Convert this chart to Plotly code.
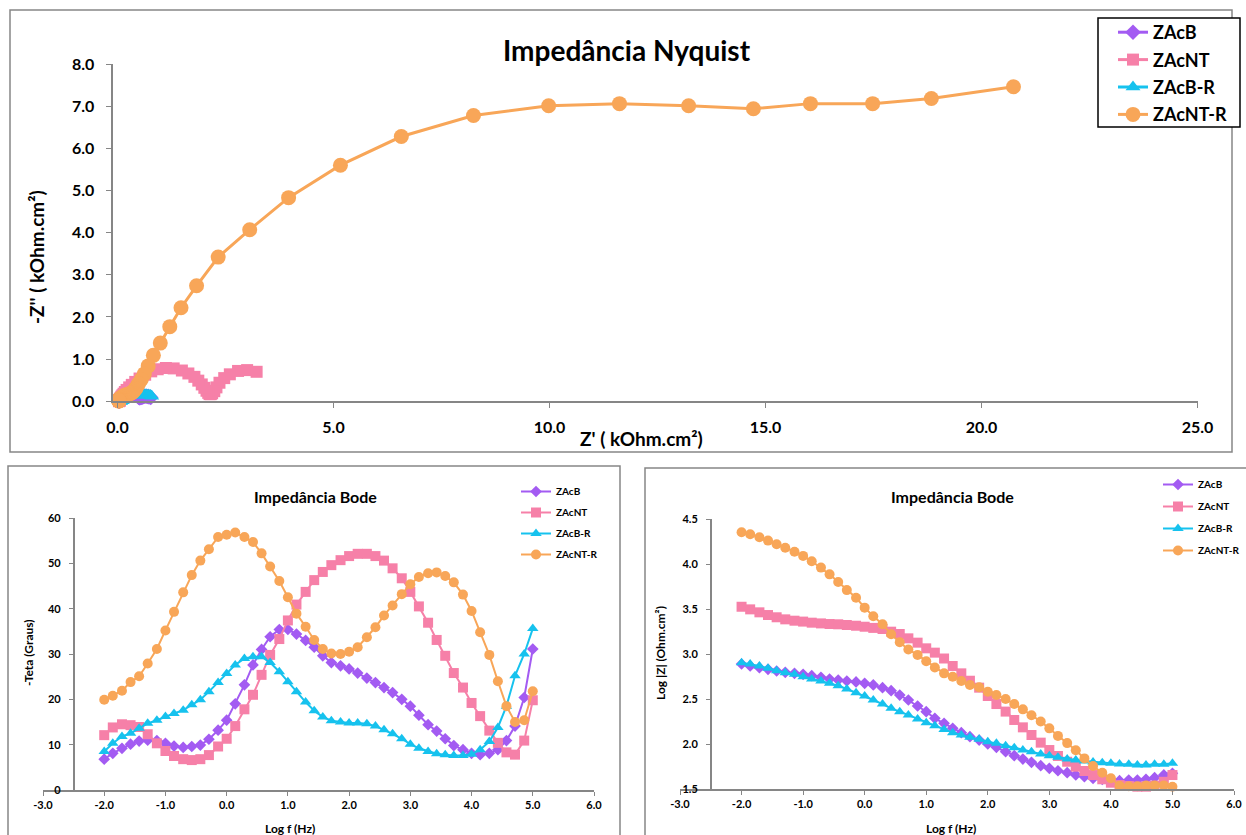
import plotly.graph_objects as go

W, H = 1246, 835


def px(x):
    return x / W


def py(y):
    return 1 - y / H


series = ["ZAcB", "ZAcNT", "ZAcB-R", "ZAcNT-R"]
colors = {"ZAcB": "#A35BF2", "ZAcNT": "#F680A8", "ZAcB-R": "#16C2EE", "ZAcNT-R": "#F8A658"}
symbols = {"ZAcB": "diamond", "ZAcNT": "square", "ZAcB-R": "triangle-up", "ZAcNT-R": "circle"}

# ---------------- Nyquist data (kOhm.cm2) ----------------
nyq_zre_ZAcB = [0.769, 0.729, 0.696, 0.666, 0.636, 0.614, 0.599, 0.585, 0.566, 0.544,
                0.520, 0.506, 0.492, 0.477, 0.455, 0.428, 0.389, 0.347, 0.300, 0.256,
                0.215, 0.186, 0.159, 0.143, 0.127, 0.116, 0.106, 0.098, 0.089, 0.083,
                0.075, 0.068, 0.063, 0.058, 0.054, 0.051, 0.048, 0.046, 0.044, 0.043,
                0.041, 0.040, 0.039, 0.039, 0.039, 0.039, 0.040, 0.041, 0.042, 0.040]
nyq_zim_ZAcB = [0.092, 0.104, 0.113, 0.119, 0.121, 0.119, 0.115, 0.106, 0.097, 0.090,
                0.088, 0.088, 0.097, 0.112, 0.125, 0.147, 0.167, 0.182, 0.180, 0.171,
                0.153, 0.132, 0.109, 0.093, 0.078, 0.066, 0.057, 0.051, 0.045, 0.040,
                0.034, 0.030, 0.026, 0.023, 0.020, 0.017, 0.014, 0.012, 0.010, 0.009,
                0.007, 0.006, 0.006, 0.005, 0.006, 0.006, 0.008, 0.010, 0.016, 0.024]

nyq_zre_ZAcNT = [3.22, 3.00, 2.79, 2.60, 2.47, 2.36, 2.29, 2.24, 2.19, 2.16,
                 2.13, 2.10, 2.06, 2.01, 1.95, 1.87, 1.78, 1.64, 1.49, 1.30,
                 1.12, 0.93, 0.78, 0.64, 0.51, 0.41, 0.33, 0.27, 0.21, 0.17,
                 0.14, 0.115, 0.097, 0.083, 0.071, 0.062, 0.056, 0.051, 0.047, 0.044,
                 0.041, 0.040, 0.038, 0.036, 0.035, 0.034, 0.034, 0.035, 0.038, 0.042]
nyq_zim_ZAcNT = [0.70, 0.74, 0.72, 0.64, 0.55, 0.44, 0.33, 0.24, 0.19, 0.17,
                 0.17, 0.20, 0.25, 0.32, 0.40, 0.49, 0.58, 0.66, 0.73, 0.78,
                 0.79, 0.76, 0.71, 0.63, 0.54, 0.46, 0.39, 0.33, 0.27, 0.22,
                 0.18, 0.145, 0.118, 0.095, 0.076, 0.059, 0.048, 0.038, 0.031, 0.025,
                 0.020, 0.016, 0.013, 0.010, 0.008, 0.006, 0.005, 0.005, 0.007, 0.015]

nyq_zre_ZAcBR = [0.793, 0.762, 0.720, 0.677, 0.635, 0.601, 0.573, 0.538, 0.504, 0.478,
                 0.447, 0.418, 0.379, 0.340, 0.307, 0.273, 0.243, 0.217, 0.199, 0.185,
                 0.170, 0.158, 0.148, 0.136, 0.127, 0.121, 0.114, 0.109, 0.103, 0.098,
                 0.093, 0.088, 0.083, 0.080, 0.076, 0.073, 0.070, 0.067, 0.066, 0.065,
                 0.063, 0.062, 0.061, 0.060, 0.058, 0.057, 0.055, 0.054, 0.051, 0.050]
nyq_zim_ZAcBR = [0.119, 0.138, 0.150, 0.150, 0.154, 0.158, 0.158, 0.156, 0.153, 0.151,
                 0.152, 0.151, 0.151, 0.149, 0.148, 0.143, 0.135, 0.122, 0.112, 0.099,
                 0.083, 0.070, 0.059, 0.048, 0.040, 0.035, 0.031, 0.029, 0.027, 0.026,
                 0.024, 0.022, 0.020, 0.018, 0.015, 0.013, 0.011, 0.010, 0.009, 0.009,
                 0.008, 0.008, 0.008, 0.009, 0.011, 0.014, 0.019, 0.025, 0.030, 0.036]

nyq_zre_ZAcNTR = [20.74, 18.84, 17.48, 16.04, 14.72, 13.22, 11.62, 9.98, 8.24, 6.57,
                  5.16, 3.96, 3.06, 2.33, 1.83, 1.47, 1.21, 0.99, 0.83, 0.71,
                  0.62, 0.55, 0.49, 0.45, 0.42, 0.39, 0.36, 0.34, 0.31, 0.28,
                  0.25, 0.22, 0.19, 0.16, 0.13, 0.105, 0.085, 0.070, 0.057, 0.047,
                  0.040, 0.035, 0.032, 0.028, 0.030, 0.031, 0.032, 0.033, 0.033, 0.031]
nyq_zim_ZAcNTR = [7.46, 7.18, 7.06, 7.06, 6.94, 7.01, 7.06, 7.01, 6.78, 6.28,
                  5.60, 4.83, 4.07, 3.42, 2.74, 2.22, 1.77, 1.38, 1.09, 0.84,
                  0.65, 0.52, 0.42, 0.35, 0.30, 0.26, 0.23, 0.21, 0.19, 0.18,
                  0.17, 0.16, 0.15, 0.135, 0.12, 0.105, 0.090, 0.076, 0.063, 0.051,
                  0.041, 0.033, 0.027, 0.020, 0.017, 0.014, 0.011, 0.009, 0.009, 0.012]

# ---------------- Bode data ----------------
log_f = [-2.00, -1.86, -1.71, -1.57, -1.43, -1.29, -1.14, -1.00, -0.86, -0.71,
         -0.57, -0.43, -0.29, -0.14, 0.00, 0.14, 0.29, 0.43, 0.57, 0.71,
         0.86, 1.00, 1.14, 1.29, 1.43, 1.57, 1.71, 1.86, 2.00, 2.14,
         2.29, 2.43, 2.57, 2.71, 2.86, 3.00, 3.14, 3.29, 3.43, 3.57,
         3.71, 3.86, 4.00, 4.14, 4.29, 4.43, 4.57, 4.71, 4.86, 5.00]

theta_ZAcB = [6.8, 8.1, 9.2, 10.1, 10.8, 11.0, 10.9, 10.3, 9.7, 9.4,
              9.6, 9.9, 11.2, 13.2, 15.4, 19.0, 23.2, 27.6, 31.0, 33.8,
              35.4, 35.4, 34.4, 33.0, 31.5, 29.6, 28.1, 27.4, 26.7, 25.8,
              24.7, 23.7, 22.6, 21.5, 20.0, 18.5, 16.5, 14.4, 13.0, 11.3,
              9.8, 8.9, 8.1, 7.8, 8.1, 8.9, 10.9, 14.1, 20.4, 31.1]
theta_ZAcNT = [12.1, 13.8, 14.5, 14.3, 13.9, 12.3, 10.3, 8.6, 7.5, 6.8,
               6.6, 6.8, 7.7, 9.6, 11.3, 14.1, 17.8, 21.0, 25.4, 29.8,
               33.3, 37.4, 40.9, 43.7, 46.3, 48.1, 49.6, 50.7, 51.6, 52.1,
               52.1, 51.6, 50.6, 48.9, 46.7, 43.7, 40.5, 36.9, 33.1, 29.6,
               25.8, 22.6, 19.2, 16.3, 13.1, 10.4, 8.3, 7.8, 10.9, 19.8]
theta_ZAcBR = [8.5, 10.3, 11.8, 12.5, 13.6, 14.7, 15.4, 16.2, 16.9, 17.6,
               18.8, 19.9, 21.7, 23.7, 25.7, 27.6, 29.0, 29.4, 29.4, 28.1,
               26.1, 23.9, 21.7, 19.4, 17.5, 16.1, 15.3, 15.0, 14.8, 14.8,
               14.6, 14.1, 13.3, 12.4, 11.3, 10.1, 9.2, 8.5, 8.0, 7.8,
               7.6, 7.6, 7.9, 8.9, 10.7, 13.8, 18.5, 25.2, 30.0, 35.6]
theta_ZAcNTR = [19.9, 20.8, 21.9, 23.8, 25.1, 27.9, 31.1, 35.2, 39.3, 43.6,
                47.4, 50.6, 53.1, 55.8, 56.3, 56.8, 55.8, 54.7, 52.2, 49.3,
                46.1, 42.5, 38.9, 36.0, 33.1, 31.1, 30.1, 30.0, 30.5, 31.5,
                33.7, 35.9, 38.5, 40.7, 43.2, 45.4, 47.0, 47.8, 48.0, 47.2,
                45.8, 43.1, 39.5, 34.8, 29.8, 24.0, 18.5, 15.0, 15.4, 21.8]

logz_ZAcB = [2.889, 2.867, 2.848, 2.830, 2.811, 2.796, 2.785, 2.774, 2.759, 2.741,
             2.722, 2.711, 2.700, 2.690, 2.674, 2.656, 2.626, 2.593, 2.544, 2.489,
             2.422, 2.359, 2.285, 2.230, 2.174, 2.126, 2.081, 2.044, 2.000, 1.963,
             1.915, 1.870, 1.833, 1.796, 1.759, 1.730, 1.703, 1.681, 1.656, 1.637,
             1.619, 1.607, 1.600, 1.592, 1.600, 1.600, 1.607, 1.626, 1.656, 1.674]
logz_ZAcNT = [3.525, 3.496, 3.463, 3.433, 3.408, 3.385, 3.370, 3.360, 3.348, 3.340,
              3.333, 3.330, 3.322, 3.314, 3.303, 3.290, 3.278, 3.248, 3.222, 3.174,
              3.126, 3.063, 3.015, 2.950, 2.867, 2.785, 2.703, 2.626, 2.533, 2.444,
              2.360, 2.267, 2.185, 2.100, 2.015, 1.933, 1.867, 1.803, 1.748, 1.700,
              1.655, 1.608, 1.570, 1.544, 1.533, 1.526, 1.526, 1.537, 1.580, 1.655]
logz_ZAcBR = [2.904, 2.889, 2.867, 2.841, 2.815, 2.793, 2.774, 2.748, 2.722, 2.700,
              2.674, 2.648, 2.611, 2.570, 2.533, 2.489, 2.444, 2.396, 2.359, 2.322,
              2.278, 2.237, 2.203, 2.160, 2.126, 2.100, 2.074, 2.052, 2.026, 2.007,
              1.981, 1.959, 1.933, 1.915, 1.889, 1.870, 1.852, 1.833, 1.822, 1.811,
              1.800, 1.792, 1.785, 1.778, 1.774, 1.767, 1.767, 1.774, 1.774, 1.785]
logz_ZAcNTR = [4.352, 4.330, 4.297, 4.260, 4.220, 4.180, 4.137, 4.090, 4.030, 3.960,
               3.885, 3.800, 3.710, 3.625, 3.515, 3.420, 3.330, 3.220, 3.130, 3.050,
               2.990, 2.920, 2.850, 2.785, 2.748, 2.700, 2.655, 2.630, 2.580, 2.544,
               2.500, 2.444, 2.385, 2.320, 2.250, 2.174, 2.090, 2.010, 1.930, 1.840,
               1.755, 1.680, 1.620, 1.537, 1.530, 1.530, 1.540, 1.540, 1.540, 1.525]

nyq = {
    "ZAcB": (nyq_zre_ZAcB, nyq_zim_ZAcB),
    "ZAcNT": (nyq_zre_ZAcNT, nyq_zim_ZAcNT),
    "ZAcB-R": (nyq_zre_ZAcBR, nyq_zim_ZAcBR),
    "ZAcNT-R": (nyq_zre_ZAcNTR, nyq_zim_ZAcNTR),
}
theta = {"ZAcB": theta_ZAcB, "ZAcNT": theta_ZAcNT, "ZAcB-R": theta_ZAcBR, "ZAcNT-R": theta_ZAcNTR}
logz = {"ZAcB": logz_ZAcB, "ZAcNT": logz_ZAcNT, "ZAcB-R": logz_ZAcBR, "ZAcNT-R": logz_ZAcNTR}

top_msize = {"ZAcB": 12, "ZAcNT": 12, "ZAcB-R": 13, "ZAcNT-R": 15}
bot_msize = {"ZAcB": 9, "ZAcNT": 10, "ZAcB-R": 10, "ZAcNT-R": 10}

FONT = "Lato"
GRAY = "#868686"

fig = go.Figure()

for s in series:
    zr, zi = nyq[s]
    fig.add_trace(go.Scatter(
        x=zr, y=zi, name=s, mode="lines+markers", xaxis="x", yaxis="y",
        line=dict(color=colors[s], width=3),
        marker=dict(symbol=symbols[s], size=top_msize[s], color=colors[s]),
        cliponaxis=False, legend="legend", legendgroup="t" + s))

for s in series:
    fig.add_trace(go.Scatter(
        x=log_f, y=theta[s], name=s, mode="lines+markers", xaxis="x2", yaxis="y2",
        line=dict(color=colors[s], width=2),
        marker=dict(symbol=symbols[s], size=bot_msize[s], color=colors[s]),
        cliponaxis=False, legend="legend2", legendgroup="a" + s))

for s in series:
    fig.add_trace(go.Scatter(
        x=log_f, y=logz[s], name=s, mode="lines+markers", xaxis="x3", yaxis="y3",
        line=dict(color=colors[s], width=2),
        marker=dict(symbol=symbols[s], size=bot_msize[s], color=colors[s]),
        cliponaxis=False, legend="legend3", legendgroup="b" + s))

tf_top = dict(family=FONT, size=16, color="black", weight="bold")
tf_bot = dict(family=FONT, size=11, color="black", weight="bold")

axis_common = dict(showgrid=False, zeroline=False, showline=True, linecolor=GRAY,
                   linewidth=1.5, ticks="outside", tickcolor=GRAY, tickwidth=1.2,
                   automargin=False)

fig.update_layout(
    xaxis=dict(domain=[px(113.2), px(1197.5)], range=[-0.1, 25], anchor="y",
               tickvals=[0, 5, 10, 15, 20, 25], ticktext=["0.0", "5.0", "10.0", "15.0", "20.0", "25.0"],
               ticklen=5, tickfont=tf_top, ticklabelstandoff=6, **axis_common),
    yaxis=dict(domain=[py(401.3), py(64)], range=[0, 8], anchor="x",
               tickvals=[0, 1, 2, 3, 4, 5, 6, 7, 8],
               ticktext=["0.0", "1.0", "2.0", "3.0", "4.0", "5.0", "6.0", "7.0", "8.0"],
               ticklen=5, tickfont=tf_top, ticklabelstandoff=9, **axis_common),
    xaxis2=dict(domain=[px(43), px(594)], range=[-3, 6], anchor="y2",
                tickvals=[-3, -2, -1, 0, 1, 2, 3, 4, 5, 6],
                ticktext=["-3.0", "-2.0", "-1.0", "0.0", "1.0", "2.0", "3.0", "4.0", "5.0", "6.0"],
                ticklen=4, tickfont=tf_bot, ticklabelstandoff=0, **axis_common),
    yaxis2=dict(domain=[py(790), py(518)], range=[0, 60], anchor="free", position=px(73.6),
                tickvals=[0, 10, 20, 30, 40, 50, 60],
                ticklen=4, tickfont=tf_bot, ticklabelstandoff=6, **axis_common),
    xaxis3=dict(domain=[px(680), px(1234)], range=[-3, 6], anchor="y3",
                tickvals=[-3, -2, -1, 0, 1, 2, 3, 4, 5, 6],
                ticktext=["-3.0", "-2.0", "-1.0", "0.0", "1.0", "2.0", "3.0", "4.0", "5.0", "6.0"],
                ticklen=4, tickfont=tf_bot, ticklabelstandoff=0, **axis_common),
    yaxis3=dict(domain=[py(789), py(519)], range=[1.5, 4.5], anchor="free", position=px(710.8),
                tickvals=[1.5, 2.0, 2.5, 3.0, 3.5, 4.0, 4.5],
                ticktext=["1.5", "2.0", "2.5", "3.0", "3.5", "4.0", "4.5"],
                ticklen=4, tickfont=tf_bot, ticklabelstandoff=6, **axis_common),
)

fig.update_layout(
    template="none",
    width=W, height=H, margin=dict(l=0, r=0, t=0, b=0, pad=0, autoexpand=False),
    paper_bgcolor="white", plot_bgcolor="rgba(0,0,0,0)",
    font=dict(family=FONT, color="black"),
    showlegend=True,
    legend=dict(x=px(1113), y=py(14), xanchor="left", yanchor="top",
                bgcolor="rgba(0,0,0,0)", borderwidth=0,
                font=dict(family=FONT, size=18, color="black", weight="bold"),
                traceorder="grouped", tracegroupgap=1, itemwidth=30),
    legend2=dict(x=px(516), y=py(477), xanchor="left", yanchor="top",
                 bgcolor="rgba(0,0,0,0)", borderwidth=0,
                 font=dict(family=FONT, size=10, color="black", weight="bold"),
                 traceorder="grouped", tracegroupgap=2, itemwidth=30),
    legend3=dict(x=px(1158), y=py(470), xanchor="left", yanchor="top",
                 bgcolor="rgba(0,0,0,0)", borderwidth=0,
                 font=dict(family=FONT, size=10, color="black", weight="bold"),
                 traceorder="grouped", tracegroupgap=3, itemwidth=30),
)

# panel borders and legend box
border = dict(type="rect", xref="paper", yref="paper", line=dict(color=GRAY, width=1.5),
              fillcolor="rgba(0,0,0,0)", layer="below")
fig.add_shape(x0=px(10), x1=px(1232), y0=py(452), y1=py(10), **border)
fig.add_shape(x0=px(8), x1=px(620), y0=py(838), y1=py(466), **border)
fig.add_shape(x0=px(645), x1=px(1250), y0=py(838), y1=py(468), **border)
fig.add_shape(type="rect", xref="paper", yref="paper", x0=px(1098), x1=px(1240),
              y0=py(127), y1=py(18), line=dict(color="black", width=1.5),
              fillcolor="white", layer="above")


def note(text, x, y, size, angle=0):
    return dict(text=text, x=px(x), y=py(y), xref="paper", yref="paper",
                xanchor="center", yanchor="middle", showarrow=False, textangle=angle,
                font=dict(family=FONT, size=size, color="black", weight="bold"))


ann = [
    note("Impedância Nyquist", 627, 50, 28),
    note("Z' ( kOhm.cm²)", 641, 438, 19),
    note("-Z'' ( kOhm.cm²)", 37, 257, 19, -90),
    note("Impedância Bode", 315, 497, 16),
    note("Impedância Bode", 952, 497, 16),
    note("-Teta (Graus)", 28, 653, 12, -90),
    note("Log |Z| (Ohm.cm²)", 660, 653, 12, -90),
    note("Log f (Hz)", 290, 828, 12),
    note("Log f (Hz)", 951, 828, 12),
]
fig.update_layout(annotations=ann)

fig.write_html("out.html")
